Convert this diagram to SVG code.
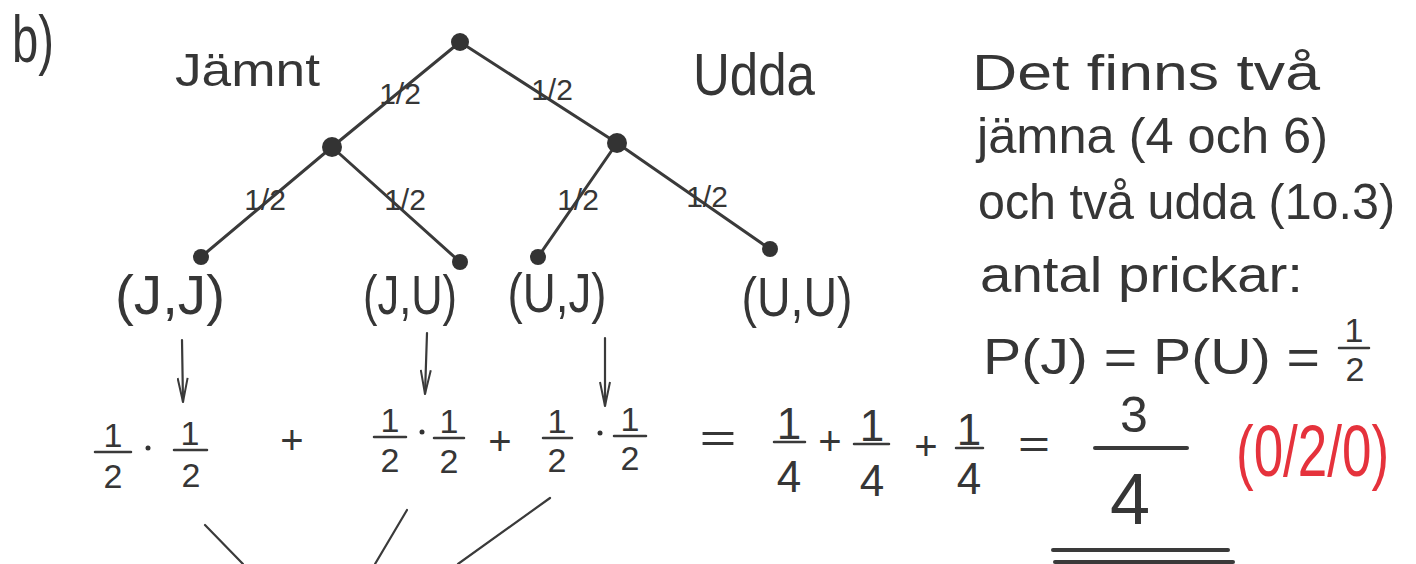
<svg xmlns="http://www.w3.org/2000/svg" width="1416" height="564" viewBox="0 0 1416 564">
<defs>
<style>
text{font-family:"Liberation Sans","DejaVu Sans",sans-serif;fill:#363636}
.edge{stroke:#3a3a3a;stroke-width:3;fill:none;stroke-linecap:round}
.thin{stroke:#3a3a3a;stroke-width:2.2;fill:none;stroke-linecap:round}
.node{fill:#333}
.lbl{font-size:30px;text-anchor:middle}
.leaf{font-size:56px;text-anchor:middle}
.big{font-size:50px}
.num{font-size:34px;text-anchor:middle}
.q{font-size:44px;text-anchor:middle}
.op{font-size:40px;text-anchor:middle}
.bar{stroke:#3a3a3a;stroke-width:2.5;stroke-linecap:round}
.red{fill:#e5323c}
</style>
<marker id="arr" viewBox="0 0 26 12" refX="25" refY="6" markerWidth="26" markerHeight="12" markerUnits="userSpaceOnUse" orient="auto">
<path d="M1 1 L25 6 L1 11" fill="none" stroke="#3a3a3a" stroke-width="2"/>
</marker>
</defs>
<rect width="1416" height="564" fill="#ffffff"/>

<text x="12" y="62" font-size="66" textLength="42" lengthAdjust="spacingAndGlyphs">b)</text>
<text x="175" y="86" font-size="46" textLength="145" lengthAdjust="spacingAndGlyphs">Jämnt</text>
<text x="693" y="95" font-size="60" textLength="122" lengthAdjust="spacingAndGlyphs">Udda</text>

<g id="connectors">
<line class="edge" x1="460" y1="42" x2="332" y2="147"/>
<line class="edge" x1="460" y1="42" x2="617" y2="143"/>
<line class="edge" x1="332" y1="147" x2="201" y2="257"/>
<line class="edge" x1="332" y1="147" x2="460" y2="262"/>
<line class="edge" x1="617" y1="143" x2="538" y2="257"/>
<line class="edge" x1="617" y1="143" x2="770" y2="249"/>
<text class="lbl" x="400" y="104">1/2</text>
<text class="lbl" x="552" y="100">1/2</text>
<text class="lbl" x="265" y="210">1/2</text>
<text class="lbl" x="405" y="210">1/2</text>
<text class="lbl" x="578" y="210">1/2</text>
<text class="lbl" x="707" y="207">1/2</text>
<line class="thin" x1="182" y1="340" x2="183" y2="402" marker-end="url(#arr)"/>
<line class="thin" x1="427" y1="333" x2="425" y2="394" marker-end="url(#arr)"/>
<line class="thin" x1="605" y1="338" x2="605" y2="406" marker-end="url(#arr)"/>
<line class="thin" x1="205" y1="525" x2="243" y2="564"/>
<line class="thin" x1="407" y1="510" x2="375" y2="564"/>
<line class="thin" x1="550" y1="498" x2="458" y2="564"/>
</g>

<g id="node-root"><circle class="node" cx="460" cy="42" r="9"/></g>
<g id="node-J"><circle class="node" cx="332" cy="147" r="10"/></g>
<g id="node-U"><circle class="node" cx="617" cy="143" r="10"/></g>
<g id="node-JJ"><circle class="node" cx="201" cy="257" r="8"/><text class="leaf" x="170" y="314" textLength="110" lengthAdjust="spacingAndGlyphs">(J,J)</text></g>
<g id="node-JU"><circle class="node" cx="460" cy="262" r="8"/><text class="leaf" x="410" y="314" textLength="94" lengthAdjust="spacingAndGlyphs">(J,U)</text></g>
<g id="node-UJ"><circle class="node" cx="538" cy="257" r="8"/><text class="leaf" x="557" y="312" textLength="99" lengthAdjust="spacingAndGlyphs">(U,J)</text></g>
<g id="node-UU"><circle class="node" cx="770" cy="249" r="8"/><text class="leaf" x="797" y="316" font-size="60" textLength="111" lengthAdjust="spacingAndGlyphs">(U,U)</text></g>

<g id="note">
<text class="big" x="972" y="90" textLength="348" lengthAdjust="spacingAndGlyphs">Det finns två</text>
<text class="big" x="977" y="153" textLength="351" lengthAdjust="spacingAndGlyphs">jämna (4 och 6)</text>
<text class="big" x="978" y="219" textLength="417" lengthAdjust="spacingAndGlyphs">och två udda (1o.3)</text>
<text class="big" x="980" y="292" textLength="323" lengthAdjust="spacingAndGlyphs">antal prickar:</text>
<text class="big" x="983" y="374" textLength="337" lengthAdjust="spacingAndGlyphs">P(J) = P(U) =</text>
<text class="num" x="1354" y="342">1</text>
<line class="bar" x1="1339" y1="348" x2="1369" y2="348"/>
<text class="num" x="1355" y="381">2</text>
</g>

<g id="equation">
<text class="num" x="113" y="447">1</text><line class="bar" x1="95" y1="452" x2="131" y2="452"/><text class="num" x="113" y="488">2</text>
<circle class="node" cx="148" cy="448" r="2.5"/>
<text class="num" x="190" y="445">1</text><line class="bar" x1="174" y1="450" x2="207" y2="450"/><text class="num" x="191" y="487">2</text>
<text class="op" x="292" y="454">+</text>
<text class="num" x="390" y="432">1</text><line class="bar" x1="374" y1="437" x2="406" y2="437"/><text class="num" x="390" y="472">2</text>
<circle class="node" cx="422" cy="432" r="2.5"/>
<text class="num" x="449" y="433">1</text><line class="bar" x1="434" y1="438" x2="464" y2="438"/><text class="num" x="449" y="473">2</text>
<text class="op" x="500" y="455">+</text>
<text class="num" x="557" y="433">1</text><line class="bar" x1="543" y1="438" x2="572" y2="438"/><text class="num" x="557" y="472">2</text>
<circle class="node" cx="600" cy="433" r="2.5"/>
<text class="num" x="630" y="431">1</text><line class="bar" x1="614" y1="436" x2="646" y2="436"/><text class="num" x="630" y="470">2</text>
<text class="op" x="718" y="452" font-size="48" textLength="37" lengthAdjust="spacingAndGlyphs">=</text>
<text class="q" x="789" y="439">1</text><line class="bar" x1="774" y1="442" x2="805" y2="442"/><text class="q" x="789" y="492">4</text>
<text class="op" x="830" y="455">+</text>
<text class="q" x="872" y="441">1</text><line class="bar" x1="854" y1="444" x2="889" y2="444"/><text class="q" x="872" y="496">4</text>
<text class="op" x="926" y="460">+</text>
<text class="q" x="969" y="445">1</text><line class="bar" x1="956" y1="448" x2="983" y2="448"/><text class="q" x="969" y="494">4</text>
<text class="op" x="1034" y="458" font-size="44" textLength="32" lengthAdjust="spacingAndGlyphs">=</text>
<text x="1134" y="432" font-size="50" text-anchor="middle">3</text>
<line class="bar" x1="1095" y1="448" x2="1187" y2="448" style="stroke-width:4"/>
<text x="1130" y="524" font-size="72" text-anchor="middle">4</text>
<line class="bar" x1="1053" y1="550" x2="1228" y2="550" style="stroke-width:4"/>
<line class="bar" x1="1055" y1="562" x2="1233" y2="562" style="stroke-width:4"/>
<text class="red" transform="translate(1236,476) scale(1,1.38)" x="0" y="0" font-size="53">(0/2/0)</text>
</g>
</svg>
